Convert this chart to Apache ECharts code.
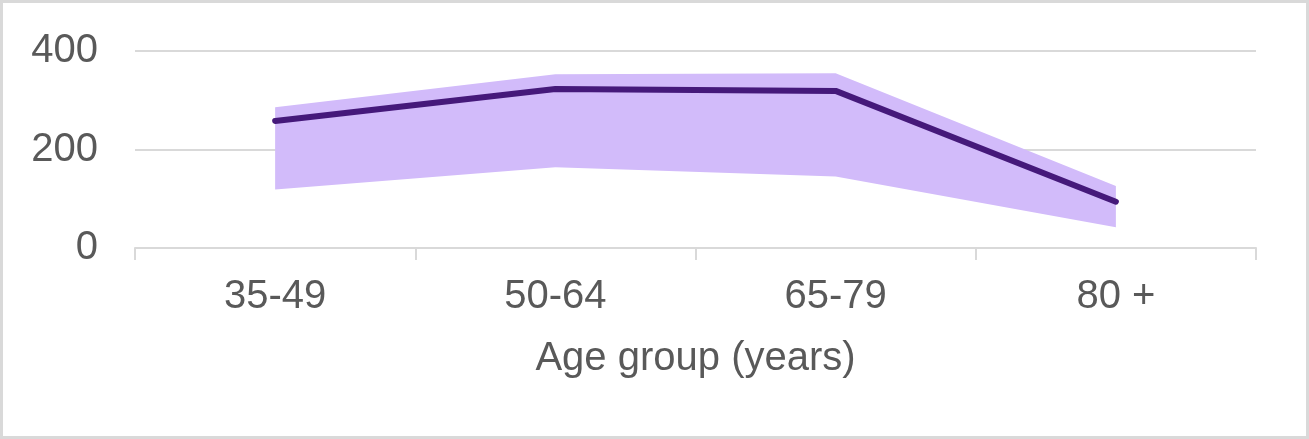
<!DOCTYPE html>
<html>
<head>
<meta charset="utf-8">
<script src="https://cdn.jsdelivr.net/npm/echarts@6/dist/echarts.min.js"></script>
<style>
html,body{margin:0;padding:0;background:#fff;}
#chart{width:1309px;height:439px;}
</style>
</head>
<body>
<div id="chart"></div>
<script>
const categories = ['35-49', '50-64', '65-79', '80 +'];
const estimate = [258, 323, 319, 94];
const lowerBound = [119, 164, 145, 42];
const upperBound = [286, 353, 355, 126];
const yTicks = [0, 200, 400];
const xAxisTitle = 'Age group (years)';

const bandWidth = upperBound.map((u, i) => u - lowerBound[i]);
const FONT = '"Liberation Sans", Arial, sans-serif';
const TEXT = '#595959';
const GRID = '#d9d9d9';

const chart = echarts.init(document.getElementById('chart'), null, {renderer: 'canvas'});
chart.setOption({
  animation: false,
  backgroundColor: '#ffffff',
  textStyle: {fontFamily: FONT},
  graphic: [{
    type: 'rect',
    shape: {x: 1.5, y: 1.5, width: 1306, height: 436},
    style: {fill: 'none', stroke: GRID, lineWidth: 3},
    silent: true
  }],
  grid: {left: 135, right: 53, top: 51, bottom: 191, containLabel: false},
  xAxis: {
    type: 'category',
    data: categories,
    boundaryGap: true,
    name: xAxisTitle,
    nameLocation: 'middle',
    nameGap: 91,
    nameTextStyle: {color: TEXT, fontSize: 40, fontFamily: FONT},
    axisLine: {show: true, lineStyle: {color: GRID, width: 2}},
    axisTick: {show: true, length: 12, lineStyle: {color: GRID, width: 2}},
    axisLabel: {color: TEXT, fontSize: 40, fontFamily: FONT, margin: 29},
    splitLine: {show: false}
  },
  yAxis: {
    type: 'value',
    min: yTicks[0],
    max: yTicks[yTicks.length - 1],
    interval: yTicks[1] - yTicks[0],
    axisLine: {show: false},
    axisTick: {show: false},
    axisLabel: {color: TEXT, fontSize: 40, fontFamily: FONT, margin: 37},
    splitLine: {show: true, lineStyle: {color: GRID, width: 2}}
  },
  series: [
    {
      name: 'lower',
      type: 'line',
      data: lowerBound,
      stack: 'band',
      symbol: 'none',
      lineStyle: {opacity: 0},
      areaStyle: {opacity: 0},
      silent: true,
      z: 1
    },
    {
      name: 'band',
      type: 'line',
      data: bandWidth,
      stack: 'band',
      symbol: 'none',
      lineStyle: {opacity: 0},
      areaStyle: {color: '#d2bbfa', opacity: 1},
      silent: true,
      z: 1
    },
    {
      name: 'estimate',
      type: 'line',
      data: estimate,
      symbol: 'none',
      lineStyle: {color: '#45197a', width: 6, cap: 'round', join: 'round'},
      z: 3
    }
  ]
});
</script>
</body>
</html>
